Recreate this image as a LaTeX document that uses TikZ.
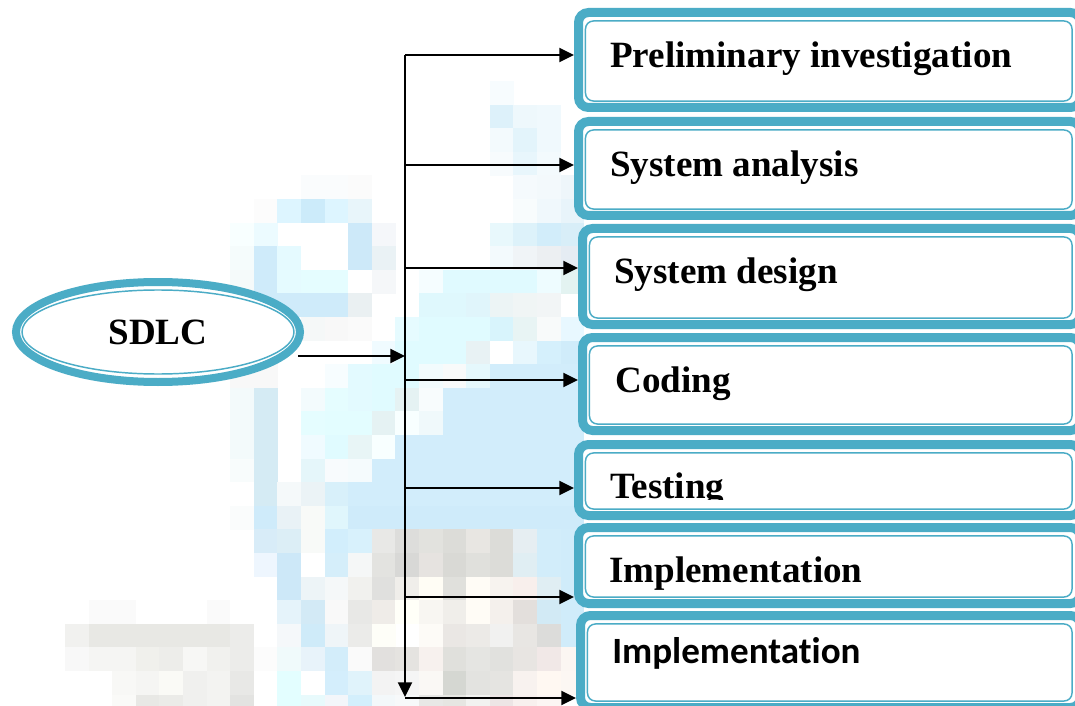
\documentclass[tikz,border=0pt]{standalone}
\usepackage{fontspec}
\setmainfont{Liberation Serif}
\newfontfamily\carlitofont[Ligatures={NoCommon}]{Carlito}
\usetikzlibrary{arrows.meta,fit,shapes.geometric}
\definecolor{frame}{HTML}{4BACC6}
\tikzset{
  box/.style={draw=frame, line width=6.75pt, rounded corners=7.5pt, fill=white, inner sep=0pt, outer sep=3.4pt},
  innerframe/.style={draw=frame, line width=1.1pt, rounded corners=6pt},
  conn/.style={draw=black, line width=1.6pt, -{Triangle[length=11pt,width=10.5pt]}},
  lbl/.style={font=\fontsize{27.8}{33}\selectfont\bfseries, inner sep=0pt, anchor=base west},
}
\begin{document}
\begin{tikzpicture}[x=0.75pt,y=-0.75pt]
\useasboundingbox (0,0) rectangle (1075,706);
\clip (0,0) rectangle (1075,706);
\fill[white] (0,0) rectangle (1075,706);
% pixel mosaic background
\definecolor{bigblue}{HTML}{D2EDFB}
\definecolor{bigblue2}{HTML}{CFEBFA}
\fill[bigblue] (442.6,387.8) rectangle (584.2,505.8);
\fill[bigblue2] (348.2,505.8) rectangle (584.2,529.4);
\foreach \i/\j/\c in {
18/-4/F7FCFE,
18/-3/DDF1FA, 19/-3/EEF8FC, 20/-3/F0F9FD,
18/-2/F3FAFD, 19/-2/E3F4FB, 20/-2/F0F9FD,
18/-1/F7FBFD, 19/-1/E8F6FC, 20/-1/F3FAFD,
19/0/F5FAFD, 20/0/F3F9FC, 21/0/EEF6FA, 10/0/FAFCFD, 11/0/FAFCFD, 12/0/FBFBFB,
8/1/FCFCFC, 9/1/DDF5FF, 10/1/CCEBFA, 11/1/DDF5FF, 12/1/E8F5FA, 19/1/F8FCFD, 20/1/F0F8FC, 21/1/E8F4FA,
7/2/F8FFFF, 8/2/ECFBFF, 12/2/CDE9F9, 13/2/F5F7FA, 18/2/E8F8FC, 19/2/DDF2FA, 20/2/D2EDFA, 21/2/D8EEF8,
7/3/F5FCFC, 8/3/CFEBFA, 9/3/E5FAFF, 12/3/CDE9F9, 13/3/EAF2F5, 18/3/F3FAFD, 19/3/F0F4F7, 20/3/ECEFF2, 21/3/E5ECF3,
7/4/F5FAFA, 8/4/CFEBFA, 9/4/E5FBFF, 10/4/E5FDFF, 11/4/E5FDFF, 13/4/F5F7F9, 15/4/F5FDFF, 16/4/E0FAFF, 17/4/E0FAFF, 18/4/E0FAFF, 19/4/E0FAFF, 20/4/EEFCFF, 21/4/E3F3F1,
7/5/F5FAFA, 8/5/CFEBFA, 9/5/CFEBFA, 10/5/CFEBFA, 11/5/CFEBFA, 12/5/EAF0F2, 15/5/DFF8FD, 16/5/DFF8FD, 17/5/E0F5FB, 18/5/ECF4F5, 19/5/F0F5F5, 20/5/F2F5F6,
8/6/E8F3F5, 10/6/F5F8F8, 11/6/F8F8F8, 12/6/FAFAFA, 14/6/E6FBFF, 15/6/E0FBFF, 16/6/E0FBFF, 17/6/E0FBFF, 18/6/D8F4FC, 19/6/E8F4F4, 20/6/F8FAFA, 21/6/E8F8FF,
8/7/F0F7F9, 13/7/F0FBFF, 14/7/E0FBFF, 15/7/E0FBFF, 16/7/E0FBFF, 17/7/E8F2F4, 19/7/E8F7FD, 20/7/D5F0FC, 21/7/D0ECFA,
7/8/F8F8F8, 8/8/F8F8F8, 11/8/F7FDFF, 12/8/E3FAFF, 13/8/E0FBFF, 14/8/E0FBFF, 15/8/F2FBFD, 16/8/F8FAFA, 17/8/E5F8FC, 18/8/D2EDFB, 19/8/D2EDFB, 20/8/D2EDFB, 21/8/D2EDFB,
7/9/F3FAFB, 8/9/D5EBF4, 10/9/F3FBFD, 11/9/E5FDFF, 12/9/E3FAFF, 13/9/E0FBFF, 14/9/E5F2F3, 15/9/F8FCFD,
7/10/F3FAFB, 8/10/D5EBF4, 10/10/E5FDFF, 11/10/E3FDFF, 12/10/E3FDFF, 13/10/E5F2F3, 14/10/F8FFFF, 15/10/F0F9FB,
7/11/F3FAFB, 8/11/D5EBF4, 10/11/F0FBFF, 11/11/E0FBFF, 12/11/E8F5F6, 13/11/F8FFFF, 14/11/D2EDFB, 15/11/D2EDFB,
7/12/F8FCFC, 8/12/D5EBF4, 10/12/E5F6FA, 11/12/F8FBFD, 12/12/F5FBFD, 13/12/D2EDFB, 14/12/D2EDFB, 15/12/D2EDFB,
8/13/D5EBF4, 9/13/F5F9FA, 10/13/EBF3F6, 11/13/D8F0FA, 12/13/D2EDFB, 13/13/D2EDFB, 14/13/D2EDFB, 15/13/D2EDFB,
7/14/FAFCFC, 8/14/CFEBFA, 9/14/E9F2F6, 10/14/F8FAF8, 11/14/E0F6FC,
8/15/D8ECF8, 9/15/DCEEF6, 10/15/F8FAF8, 11/15/D2EEFC, 12/15/D8F1FC, 13/15/E8E8E6, 14/15/DDDDDB, 15/15/E2E2DE, 16/15/DCDCD8, 17/15/E8E6E2, 18/15/DCDCD8, 19/15/E6EEF2, 20/15/D2EDFA, 21/15/D0ECFA,
8/16/EEF6FE, 9/16/CDE8F8, 11/16/D5EEFA, 12/16/F5F7F7, 13/16/E3E3E0, 14/16/D8D8D6, 15/16/E6E3E0, 16/16/D9D9D5, 17/16/E0E0DC, 18/16/DCDCD8, 19/16/E0EEF3, 20/16/D2EDFA, 21/16/D0ECFA,
9/17/CDE8F8, 10/17/EDF4F7, 11/17/F5F8F9, 12/17/F1F1EE, 13/17/E0E0DE, 14/17/F0EEEA, 15/17/FFFDF5, 16/17/E0E0DC, 17/17/FFFCF6, 18/17/F7F3EF, 19/17/F8EFEC, 20/17/E0EEF3, 21/17/D0ECFA,
1/18/FAFAFA, 2/18/FAFAFA, 6/18/FAFAFA, 9/18/E5F3FA, 10/18/D3EAF6, 11/18/F9F9F9, 12/18/E8E8E6, 13/18/EFECE8, 14/18/FFFFF8, 15/18/F8F6F2, 16/18/F0EEEA, 17/18/FFFCF6, 18/18/F4F0EC, 19/18/E3DFDC, 20/18/D2EAF5, 21/18/D0ECFA,
0/19/F1F1EF, 1/19/E8E8E4, 2/19/E8E8E4, 3/19/E8E8E4, 4/19/E8E8E4, 5/19/E8E8E4, 6/19/E8E8E4, 7/19/ECECEA, 9/19/F5F8FA, 10/19/CFEBF9, 11/19/EFF5F8, 12/19/EBEBE9, 13/19/FEFEF8, 15/19/FDFBF7, 16/19/EAE7E4, 17/19/ECEAE7, 18/19/F1F1F0, 19/19/E8E6E3, 20/19/DCDCDA, 21/19/D0ECFA,
0/20/F8F8F8, 1/20/F5F5F3, 2/20/F5F5F3, 3/20/F0F0EC, 4/20/EDEDEA, 5/20/F7F7F5, 6/20/F1F1EE, 7/20/ECECEA, 8/20/FCFCFC, 9/20/F0FAFB, 10/20/E8F3FA, 11/20/D3EDFA, 12/20/FAFAFA, 13/20/E2E0DE, 14/20/E5E3E0, 15/20/F7F1EE, 16/20/E0E0DC, 17/20/E5E5E2, 18/20/E1E1DE, 19/20/E8E5E2, 20/20/F1E8E7, 21/20/FBF6F2,
2/21/F8F8F6, 3/21/F5F5F3, 4/21/FAFAF6, 5/21/F0F0EE, 6/21/F3F3F1, 7/21/E8E8E6, 9/21/E3FEFF, 11/21/D4EEFC, 12/21/E0F3FB, 13/21/F3F3F3, 14/21/F5F5F5, 15/21/FAF8F5, 16/21/D5D7D2, 17/21/E3E3E0, 18/21/E5E4E1, 19/21/F8F2EF, 20/21/FFF8F2, 21/21/FCF7F3,
2/22/FAFAF8, 3/22/E8E8E5, 4/22/EBEBE8, 5/22/F0F0EE, 6/22/F3F3F1, 7/22/E3E3E1, 9/22/E3FEFF, 10/22/E8FAFC, 11/22/F3F6FA, 12/22/D3EFFC, 13/22/F3F8FA, 14/22/F7F9FA, 15/22/E8E8E6, 16/22/E6E6E2, 17/22/F2F2F0, 18/22/EDE5E5, 19/22/F8F0EE, 20/22/FCF5F3}{
  \definecolor{cellc}{HTML}{\c}
  \fill[cellc] (65+23.6*\i, 175.4+23.6*\j) rectangle ++(23.8,23.8);
}

% SDLC ellipse
\node[ellipse, draw=frame, line width=6pt, fill=white, minimum width=213pt, minimum height=75pt, inner sep=0pt,
      font=\fontsize{27.8}{33}\selectfont\bfseries] (e) at (158,332) {SDLC};
\draw[draw=frame, line width=1.1pt] (e.center) ellipse [x radius=136, y radius=42];

% boxes
\node[box, fit={(578.5,12.5) (1080.5,107.5)}] (b1) {};
\node[box, fit={(578.5,121.5) (1080.5,215.5)}] (b2) {};
\node[box, fit={(582.5,228.5) (1080.5,324.5)}] (b3) {};
\node[box, fit={(582.5,337.5) (1080.5,430.5)}] (b4) {};
\node[box, fit={(578.5,444.5) (1080.5,515.5)}] (b5) {};
\node[box, fit={(578.5,527.5) (1080.5,603.5)}] (b6) {};
\node[box, fit={(580.5,615.5) (1080.5,707.5)}] (b7) {};
\foreach \b in {b1,b2,b3,b4,b5,b6,b7}{
  \draw[innerframe] ([shift={(11.5,13)}]\b.north west) rectangle ([shift={(-13,-11)}]\b.south east);
}

% labels
\node[lbl] (t1) at (610,68) {Preliminary investigation};
\node[lbl] (t2) at (610,177) {System analysis};
\node[lbl] (t3) at (614,283) {System design};
\node[lbl] (t4) at (615,392) {Coding};
\begin{scope}
  \clip (585,450) rectangle (1070,499);
  \node[lbl] (t5) at (610,498) {Testing};
\end{scope}
\node[lbl] (t6) at (609,582) {Implementation};
\node[lbl, font=\fontsize{27.8}{33}\selectfont\carlitofont\bfseries] (t7) at (612,663) {Implementation};

% connectors
\coordinate (s) at (298,356);
\coordinate (m) at (405,356);
\coordinate (top) at (405,55);
\coordinate (bot) at (405,697);
\coordinate (j1) at (405,55);
\coordinate (j2) at (405,165);
\coordinate (j3) at (405,268);
\coordinate (j4) at (405,380);
\coordinate (j5) at (405,488);
\coordinate (j6) at (405,597);
\coordinate (j7) at (405,698);
\draw[conn] (s) -- (m);
\draw[conn] (top) -- (bot);
\draw[conn] (j1) -- (j1 -| b1.west);
\draw[conn] (j2) -- (j2 -| b2.west);
\draw[conn] (j3) -- (j3 -| b3.west);
\draw[conn] (j4) -- (j4 -| b4.west);
\draw[conn] (j5) -- (j5 -| b5.west);
\draw[conn] (j6) -- (j6 -| b6.west);
\draw[conn] (j7) -- (j7 -| b7.west);
\end{tikzpicture}
\end{document}
